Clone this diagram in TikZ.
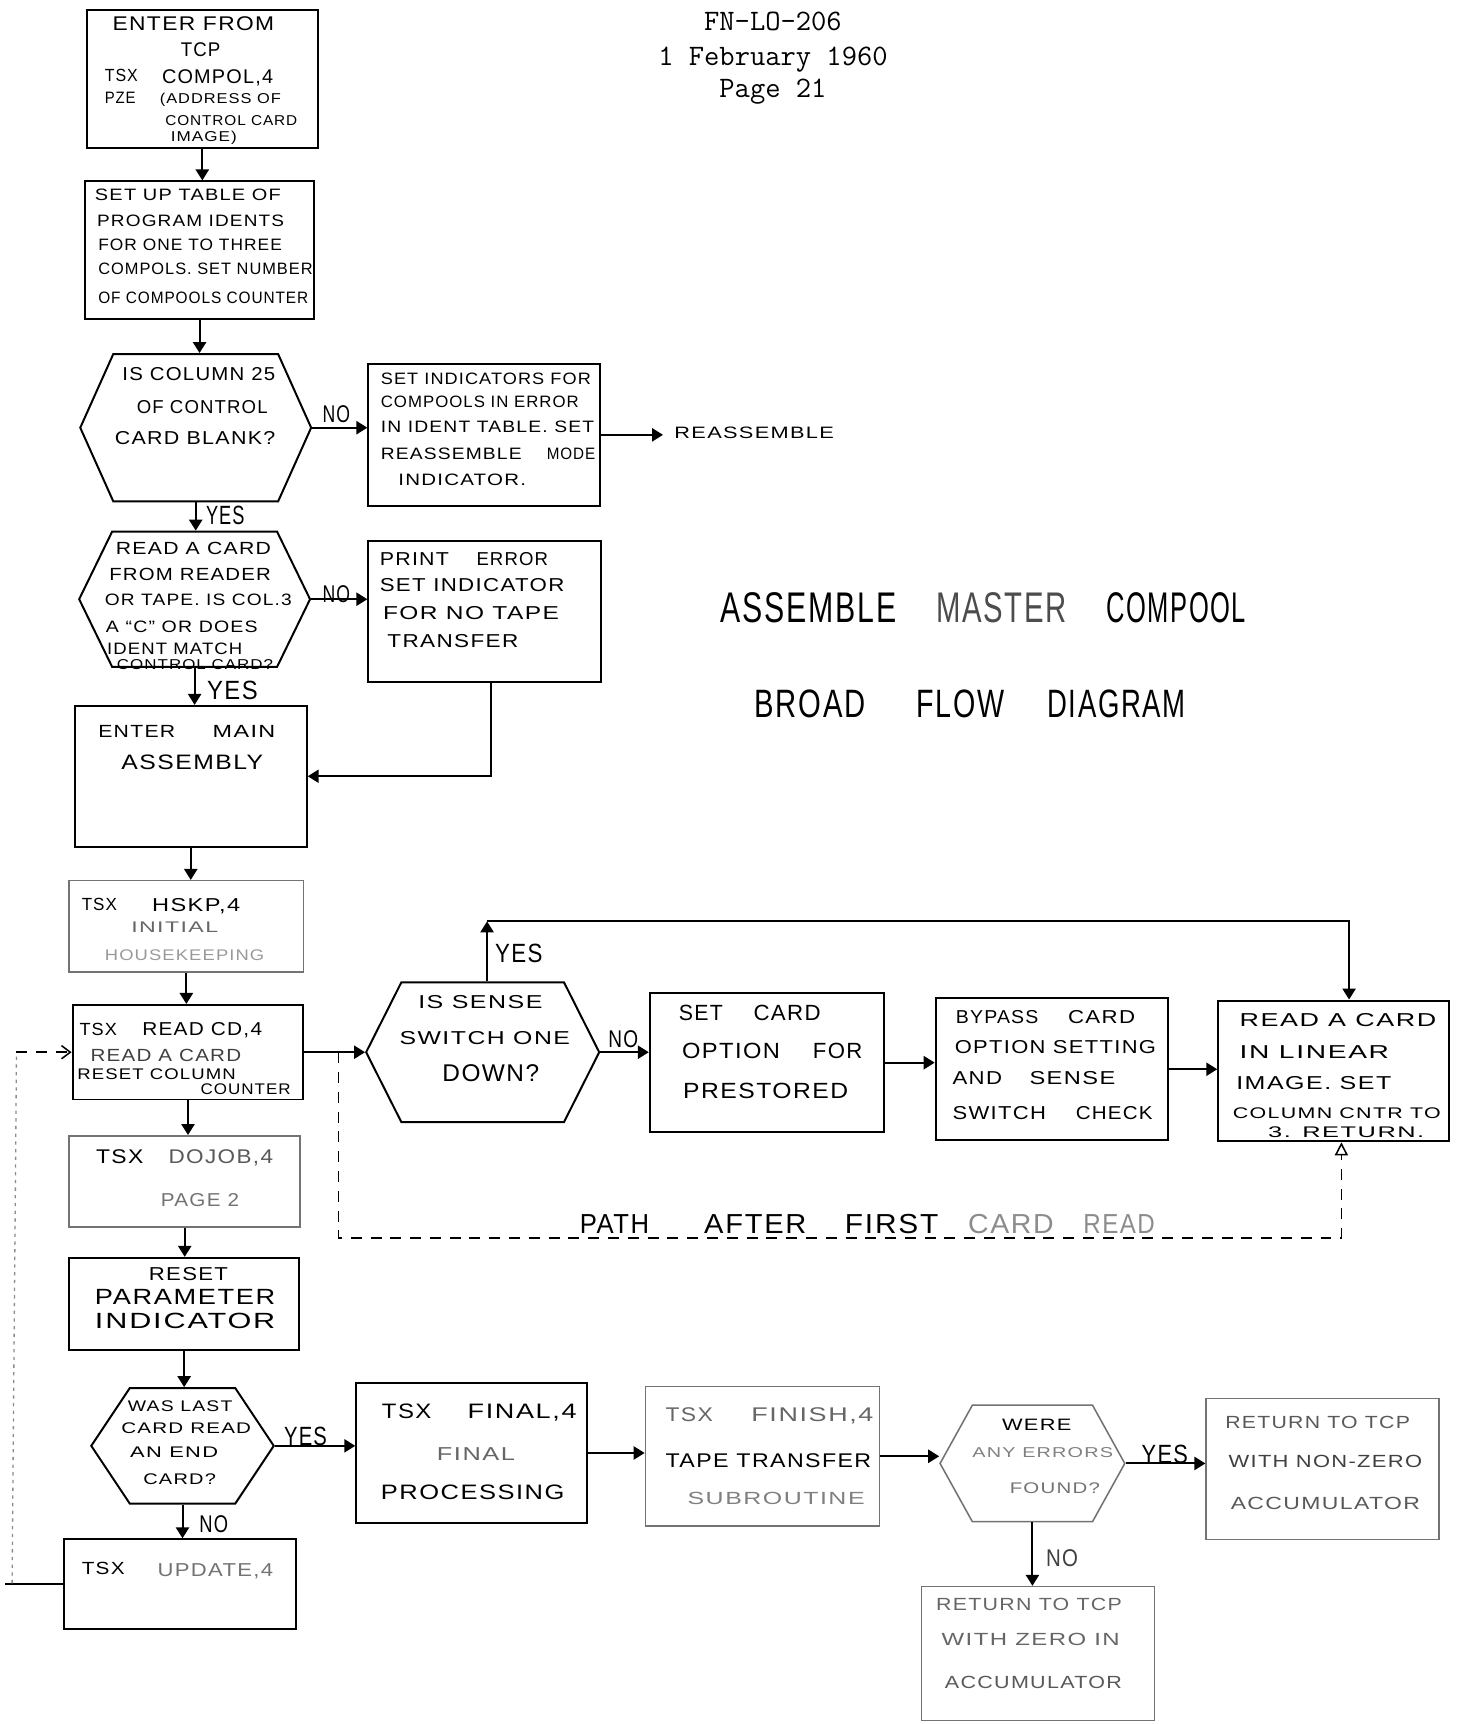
\documentclass[tikz,border=0pt]{standalone}
\usepackage{fontspec}
\usepackage{graphicx}
\usetikzlibrary{arrows.meta,shapes.symbols,fit,calc}
\newfontfamily\hand[LetterSpace=6]{Liberation Sans}
\newlength\linew
\newcounter{lnum}
% set a line of lettering so that it runs from x1 to x2 (given in half points)
\newcommand\fitbox[3]{%
  \fontsize{#2}{#2}\hand\selectfont
  \settowidth\linew{#3}%
  \pgfmathsetmacro\fitsc{#1/\linew}%
  \scalebox{\fitsc}[1]{#3}}
% \fitline[options]{x1}{x2}{baseline y}{size}{text}
\newcommand\fitline[6][]{%
  \stepcounter{lnum}%
  \pgfmathsetmacro\fitlen{(#3-#2)*0.5}%
  \node[txt,#1] (ln\thelnum) at (#2,#4) {\fitbox{\fitlen}{#5}{#6}};%
}
\begin{document}
\begin{tikzpicture}[x=0.5pt,y=-0.5pt,
  stroke/.style={line width=0.9pt},
  arr/.style={line width=0.9pt,-{Triangle[length=5pt,width=6pt]}},
  pbox/.style={draw,line width=0.9pt,inner sep=0pt},
  fpbox/.style={draw=black!55,line width=0.7pt,inner sep=0pt},
  hex/.style={draw,line width=0.9pt,shape=signal,signal to=east and west,inner sep=0pt},
  fhex/.style={hex,draw=black!55,line width=0.7pt},
  txt/.style={inner sep=0pt,anchor=base west},
  hdr/.style={inner sep=0pt,anchor=base,font=\ttfamily\fontsize{13.5}{14}\selectfont},
  dashline/.style={line width=0.7pt,dash pattern=on 5pt off 4pt},
  faintdot/.style={draw=black!45,line width=0.6pt,dash pattern=on 1.5pt off 2pt}]
\fill[white] (0,0) rectangle (1328,1568);
\useasboundingbox (0,0) rectangle (1328,1568);

% ---- header ----
\node[hdr] (hdr1) at (703,28) {FN-LO-206};
\node[hdr] (hdr2) at (703,60) {1 February 1960};
\node[hdr] (hdr3) at (703,89) {Page 21};

% ---- boxes ----
\node[pbox,fit={(79,9) (289,135)}] (b1) {};
\node[pbox,fit={(77,165) (286,290)}] (b2) {};
\node[pbox,fit={(335,331) (546,460)}] (b3) {};
\node[pbox,fit={(335,492) (547,620)}] (b4) {};
\node[pbox,fit={(68,642) (279,770)}] (b5) {};
\node[fpbox,fit={(63,801) (276,884)}] (b6) {};
\node[pbox,fit={(66,914) (276,1000)}] (b7) {};
\node[fpbox,fit={(63,1033) (273,1116)}] (b8) {};
\node[pbox,fit={(63,1144) (272,1228)}] (b9) {};
\node[pbox,fit={(58,1400) (269,1482)}] (b10) {};
\node[pbox,fit={(324,1258) (534,1385)}] (b11) {};
\node[fpbox,fit={(587,1261) (800,1388)}] (b12) {};
\node[fpbox,fit={(1097,1272) (1309,1400)}] (b13) {};
\node[fpbox,fit={(838,1443) (1050,1565)}] (b14) {};
\node[pbox,fit={(591,903) (804,1030)}] (b15) {};
\node[pbox,fit={(851,908) (1062,1037)}] (b16) {};
\node[pbox,fit={(1108,910) (1318,1038)}] (b17) {};

% ---- decisions ----
\node[hex,minimum width=105pt,minimum height=67pt,signal pointer angle=131.7] (h1) at (178,389) {};
\node[hex,minimum width=105pt,minimum height=61.5pt,signal pointer angle=128] (h2) at (177,545) {};
\node[hex,minimum width=83pt,minimum height=52.5pt,signal pointer angle=112.6] (h3) at (166,1315) {};
\node[fhex,minimum width=84pt,minimum height=53pt,signal pointer angle=122] (h4) at (939,1331) {};
\node[hex,minimum width=106pt,minimum height=63.5pt,signal pointer angle=126.5] (h5) at (439,957) {};

% ---- main column ----
\draw[arr] (b1.south) -- (b1.south |- b2.north);
\draw[arr] (b2.south) -- (b2.south |- h1.north);
\draw[arr] (h1.east) -- (h1.east -| b3.west);
\coordinate (reasm) at (603,396);
\draw[arr] (b3.east) -- (b3.east -| reasm);
\draw[arr] (h1.south) -- (h1.south |- h2.north);
\draw[arr] (h2.east) -- (h2.east -| b4.west);
\draw[arr] ([xshift=3pt]b4.south) |- (b5.east);
\draw[arr] (h2.south) -- (h2.south |- b5.north);
\draw[arr] (b5.south) -- (b5.south |- b6.north);
\draw[arr] (b6.south) -- (b6.south |- b7.north);
\draw[arr] (b7.south) -- (b7.south |- b8.north);
\draw[arr] (b8.south) -- (b8.south |- b9.north);
\draw[arr] (b9.south) -- (b9.south |- h3.north);
\draw[arr] (h3.south) -- (h3.south |- b10.north);
\draw[arr] (h3.east) -- (h3.east -| b11.west);
\draw[arr] (b11.east) -- (b11.east -| b12.west);
\draw[arr] (b12.east) -- (b12.east -| h4.west);
\draw[arr] (h4.east) -- (h4.east -| b13.west);
\draw[arr] (h4.south) -- (h4.south |- b14.north);

% ---- loop back from UPDATE to READ CD ----
\coordinate (lpEnd) at (5,1440);
\coordinate (lpLow) at (11,1440);
\coordinate (lpHigh) at (15,957);
\draw[stroke] (b10.west) -- (b10.west -| lpEnd);
\draw[faintdot] (lpLow) -- (lpHigh);
\draw[dashline,-{Straight Barb[length=4pt,width=6pt]}] (lpHigh) -- (lpHigh -| b7.west);

% ---- sense switch row ----
\draw[arr] (b7.east) -- (b7.east -| h5.west);
\draw[arr] (h5.east) -- (h5.east -| b15.west);
\draw[arr] (b15.east) -- (b15.east -| b16.west);
\draw[arr] (b16.east) -- (b16.east -| b17.west);
\coordinate (yTop) at (443,838);
\coordinate (yCorner) at (1227,838);
\draw[arr] (h5.north -| yTop) -- (yTop);
\draw[arr] (yTop) -- (yCorner) -- (yCorner |- b17.north);
\coordinate (dA) at (308,957);
\coordinate (dB) at (308,1126);
\coordinate (dC) at (1220,1126);
\draw[dashline,-{Triangle[open,length=6pt,width=6pt]}] (dA) -- (dB) -- (dC) -- (dC |- b17.south);

% ---- lettering ----
\fitline{102}{249}{28}{9}{ENTER FROM}
\fitline{164}{200}{51}{9}{TCP}
\fitline{95}{125}{74}{8}{TSX}
\fitline{147}{248}{76}{9}{COMPOL,4}
\fitline{95}{123}{94}{7.5}{PZE}
\fitline{145}{255}{94}{6.5}{(ADDRESS OF}
\fitline{150}{270}{114}{6.5}{CONTROL CARD}
\fitline{155}{215}{129}{6.5}{IMAGE)}

\fitline{86}{255}{182}{7.5}{SET UP TABLE OF}
\fitline{88}{258}{206}{7.5}{PROGRAM IDENTS}
\fitline{89}{256}{228}{7.5}{FOR ONE TO THREE}
\fitline{89}{284}{250}{7.5}{COMPOLS. SET NUMBER}
\fitline{89}{280}{276}{7.5}{OF COMPOOLS COUNTER}

\fitline{111}{250}{346}{8.5}{IS COLUMN 25}
\fitline{124}{243}{376}{8.5}{OF CONTROL}
\fitline{104}{250}{404}{8.5}{CARD BLANK?}
\fitline{293}{318}{384}{11}{NO}

\fitline{346}{537}{350}{7.5}{SET INDICATORS FOR}
\fitline{346}{526}{371}{7.5}{COMPOOLS IN ERROR}
\fitline{346}{540}{393}{7.5}{IN IDENT TABLE. SET}
\fitline{346}{474}{418}{7.5}{REASSEMBLE}
\fitline{497}{541}{418}{7.5}{MODE}
\fitline{362}{478}{442}{7.5}{INDICATOR.}
\fitline{613}{758}{399}{7.5}{REASSEMBLE}

\fitline{187}{222}{477}{12}{YES}
\fitline{105}{246}{504}{8}{READ A CARD}
\fitline{99}{246}{528}{8}{FROM READER}
\fitline{95}{265}{551}{7.5}{OR TAPE. IS COL.3}
\fitline{96}{234}{575}{7.5}{A “C” OR DOES}
\fitline{97}{220}{595}{7.5}{IDENT MATCH}
\fitline{106}{248}{609}{6.5}{CONTROL CARD?}
\fitline{293}{318}{548}{11}{NO}

\fitline{345}{408}{514}{8.5}{PRINT}
\fitline{433}{498}{514}{8.5}{ERROR}
\fitline{345}{513}{538}{8.5}{SET INDICATOR}
\fitline{348}{508}{563}{8.5}{FOR NO TAPE}
\fitline{352}{471}{589}{8.5}{TRANSFER}

\fitline{188}{234}{636}{12}{YES}
\fitline{89}{159}{671}{8}{ENTER}
\fitline{193}{250}{671}{8}{MAIN}
\fitline{110}{239}{700}{9.5}{ASSEMBLY}

\fitline{74}{106}{828}{8}{TSX}
\fitline{138}{218}{829}{8.5}{HSKP,4}
\fitline[text=black!60]{119}{198}{848}{7}{INITIAL}
\fitline[text=black!40]{95}{240}{874}{7}{HOUSEKEEPING}

\fitline{72}{106}{942}{8}{TSX}
\fitline{129}{238}{942}{8.5}{READ CD,4}
\fitline[text=black!75]{82}{219}{965}{8}{READ A CARD}
\fitline{70}{214}{982}{7}{RESET COLUMN}
\fitline{182}{264}{995}{7}{COUNTER}

\fitline{87}{130}{1058}{9}{TSX}
\fitline[text=black!65]{153}{248}{1058}{9}{DOJOB,4}
\fitline[text=black!55]{146}{217}{1097}{8.5}{PAGE 2}

\fitline{135}{207}{1165}{8.5}{RESET}
\fitline{86}{250}{1186}{10}{PARAMETER}
\fitline{86}{250}{1208}{10}{INDICATOR}

\fitline{116}{211}{1284}{7}{WAS LAST}
\fitline{110}{228}{1304}{7}{CARD READ}
\fitline{118}{198}{1326}{7}{AN END}
\fitline{130}{196}{1350}{7}{CARD?}
\fitline{181}{207}{1394}{11}{NO}
\fitline{258}{297}{1315}{12}{YES}

\fitline{74}{113}{1432}{8}{TSX}
\fitline[text=black!55]{143}{248}{1434}{8.5}{UPDATE,4}

\fitline{347}{392}{1290}{9.5}{TSX}
\fitline{425}{524}{1290}{9.5}{FINAL,4}
\fitline[text=black!60]{397}{468}{1328}{8.5}{FINAL}
\fitline{346}{513}{1364}{9.5}{PROCESSING}

\fitline[text=black!60]{605}{648}{1293}{9}{TSX}
\fitline[text=black!60]{683}{794}{1293}{9}{FINISH,4}
\fitline{605}{792}{1335}{9}{TAPE TRANSFER}
\fitline[text=black!50]{625}{786}{1368}{8}{SUBROUTINE}

\fitline{911}{974}{1301}{7.5}{WERE}
\fitline[text=black!50]{884}{1012}{1326}{6.5}{ANY ERRORS}
\fitline[text=black!55]{918}{1000}{1358}{7}{FOUND?}
\fitline{1038}{1080}{1331}{12}{YES}
\fitline[text=black!75]{951}{980}{1425}{11}{NO}

\fitline[text=black!65]{1114}{1282}{1299}{8}{RETURN TO TCP}
\fitline[text=black!75]{1117}{1293}{1335}{8}{WITH NON-ZERO}
\fitline[text=black!65]{1119}{1291}{1373}{8}{ACCUMULATOR}

\fitline[text=black!60]{851}{1020}{1465}{8}{RETURN TO TCP}
\fitline[text=black!60]{856}{1018}{1497}{8}{WITH ZERO IN}
\fitline[text=black!65]{859}{1020}{1536}{8}{ACCUMULATOR}

\fitline{380}{493}{917}{8.5}{IS SENSE}
\fitline{363}{518}{950}{8.5}{SWITCH ONE}
\fitline{402}{490}{984}{11}{DOWN?}
\fitline{553}{580}{953}{11}{NO}
\fitline{450}{493}{875}{12}{YES}

\fitline{617}{657}{928}{10}{SET}
\fitline{685}{746}{928}{10}{CARD}
\fitline{620}{709}{963}{10}{OPTION}
\fitline{739}{784}{963}{10}{FOR}
\fitline{621}{771}{999}{10}{PRESTORED}

\fitline{869}{944}{931}{8.5}{BYPASS}
\fitline{971}{1032}{931}{8.5}{CARD}
\fitline{868}{1051}{958}{8.5}{OPTION SETTING}
\fitline{866}{911}{986}{8.5}{AND}
\fitline{936}{1014}{986}{8.5}{SENSE}
\fitline{866}{951}{1018}{8.5}{SWITCH}
\fitline{978}{1048}{1018}{8.5}{CHECK}

\fitline{1127}{1306}{934}{8.5}{READ A CARD}
\fitline{1127}{1263}{963}{8.5}{IN LINEAR}
\fitline{1124}{1265}{991}{8.5}{IMAGE. SET}
\fitline{1121}{1310}{1017}{7}{COLUMN CNTR TO}
\fitline{1153}{1295}{1035}{7}{3. RETURN.}

\fitline{527}{590}{1122}{12.5}{PATH}
\fitline{640}{733}{1122}{12.5}{AFTER}
\fitline{768}{853}{1122}{12.5}{FIRST}
\fitline[text=black!45]{880}{958}{1122}{12.5}{CARD}
\fitline[text=black!45]{985}{1050}{1122}{12.5}{READ}

% ---- title ----
\fitline{655}{815}{566}{19.5}{ASSEMBLE}
\fitline[text=black!70]{851}{970}{566}{19.5}{MASTER}
\fitline{1006}{1133}{566}{19.5}{COMPOOL}
\fitline{686}{787}{653}{18}{BROAD}
\fitline{833}{913}{653}{18}{FLOW}
\fitline{952}{1078}{653}{18}{DIAGRAM}
\end{tikzpicture}
\end{document}
